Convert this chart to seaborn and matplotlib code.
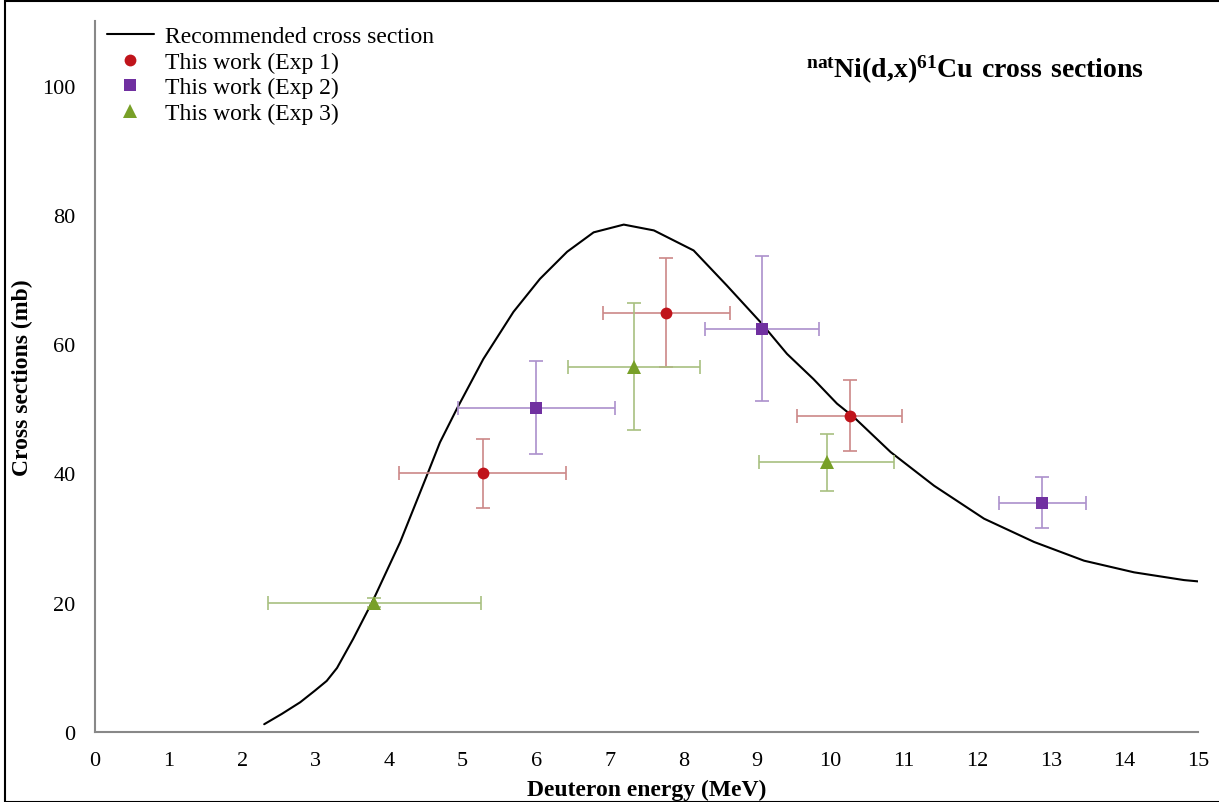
import matplotlib.pyplot as plt
import seaborn as sns
import pandas as pd
import numpy as np
from matplotlib.lines import Line2D

# recommended cross section curve
curve_energy = [2.30, 2.54, 2.79, 2.99, 3.15, 3.29, 3.51, 3.79, 4.15, 4.52, 4.69,
                4.92, 5.28, 5.69, 6.05, 6.42, 6.78, 7.19, 7.60, 8.14, 8.59, 9.05,
                9.41, 9.77, 10.09, 10.32, 10.82, 11.41, 12.09, 12.77, 13.45, 14.13,
                14.81, 15.0]
curve_xs = [1.2, 2.8, 4.6, 6.4, 7.9, 9.9, 14.4, 20.6, 29.4, 39.9, 44.8,
            50.0, 57.7, 65.0, 70.1, 74.3, 77.3, 78.5, 77.6, 74.5, 69.1, 63.4,
            58.5, 54.6, 50.8, 48.7, 43.3, 38.1, 33.0, 29.4, 26.5, 24.7,
            23.5, 23.3]

# this work, three experiments
exp1_energy = [5.27, 7.77, 10.26]
exp1_xs = [40.0, 64.9, 48.9]
exp1_xerr = [1.14, 0.86, 0.72]
exp1_yerr = [5.3, 8.4, 5.5]

exp2_energy = [6.0, 9.07, 12.88]
exp2_xs = [50.2, 62.4, 35.5]
exp2_xerr = [1.07, 0.78, 0.59]
exp2_yerr = [7.2, 11.2, 3.9]

exp3_energy = [3.8, 7.33, 9.95]
exp3_xs = [20.0, 56.5, 41.7]
exp3_xerr = [1.45, 0.9, 0.92]
exp3_yerr = [0.7, 9.8, 4.4]

sns.set_style('white')
plt.rcParams['font.family'] = ['Liberation Serif', 'DejaVu Serif']
plt.rcParams['mathtext.fontset'] = 'custom'
plt.rcParams['mathtext.rm'] = 'Liberation Serif'
plt.rcParams['mathtext.bf'] = 'Liberation Serif:bold'
plt.rcParams['text.color'] = 'black'
plt.rcParams['axes.labelcolor'] = 'black'

fig = plt.figure(figsize=(12.19, 8.03), dpi=100)
ax = fig.add_axes([0.078, 0.0872, 0.9048, 0.8854])

curve = pd.DataFrame({'energy': curve_energy, 'xs': curve_xs})
sns.lineplot(data=curve, x='energy', y='xs', color='black', lw=1.5, ax=ax,
             sort=False)

series = [
    (exp1_energy, exp1_xs, exp1_xerr, exp1_yerr, '#C0141B', '#CC8888', 'o', 8.5, 'This work (Exp 1)'),
    (exp2_energy, exp2_xs, exp2_xerr, exp2_yerr, '#7030A0', '#AC90CC', 's', 8.5, 'This work (Exp 2)'),
    (exp3_energy, exp3_xs, exp3_xerr, exp3_yerr, '#78A028', '#A8C080', '^', 9.5, 'This work (Exp 3)'),
]
for ex, ey, xe, ye, col, ecol, mk, ms, lab in series:
    ax.errorbar(ex, ey, xerr=xe, yerr=ye, fmt='none', ecolor=ecol, elinewidth=1.2,
                capsize=5, capthick=1.2, zorder=2)
    ax.plot(ex, ey, linestyle='none', marker=mk, markersize=ms, color=col,
            markeredgewidth=0, zorder=3)

ax.set_xlim(0, 15)
ax.set_ylim(0, 110)
ax.set_xticks(np.arange(0, 16, 1))
ax.set_yticks(np.arange(0, 101, 20))
ax.tick_params(axis='both', labelsize=16, length=5, color='#888888', width=1.2,
               direction='out', labelcolor='black')
ax.tick_params(axis='x', pad=9)
ax.tick_params(axis='y', pad=9)
sns.despine(ax=ax)
for s in ['left', 'bottom']:
    ax.spines[s].set_color('#888888')
    ax.spines[s].set_linewidth(1.5)

ax.set_xlabel('Deuteron energy (MeV)', fontsize=17, fontweight='bold', labelpad=6)
ax.set_ylabel('Cross sections (mb)', fontsize=17, fontweight='bold', labelpad=7)

ax.text(0.951, 0.932, r'$\mathbf{^{nat}Ni(d{,}x)^{61}Cu\ cross\ sections}$',
        transform=ax.transAxes, ha='right', va='center', fontsize=20)

handles = [Line2D([], [], color='black', lw=1.5)]
labels = ['Recommended cross section']
for _, _, _, _, col, _, mk, ms, lab in series:
    handles.append(Line2D([], [], linestyle='none', marker=mk, markersize=ms,
                          color=col, markeredgewidth=0))
    labels.append(lab)
ax.legend(handles, labels, loc='upper left', bbox_to_anchor=(0.0, 1.01),
          frameon=False, fontsize=17, handlelength=2.0, handletextpad=0.45,
          labelspacing=0.17, borderaxespad=0.1)

fig.patches.append(plt.Rectangle((5 / 1219, 0.0), 1.0, 1 - 2 / 803, transform=fig.transFigure,
                                 fill=False, edgecolor='black', lw=1.5))

fig.savefig('out.png', dpi=100)
